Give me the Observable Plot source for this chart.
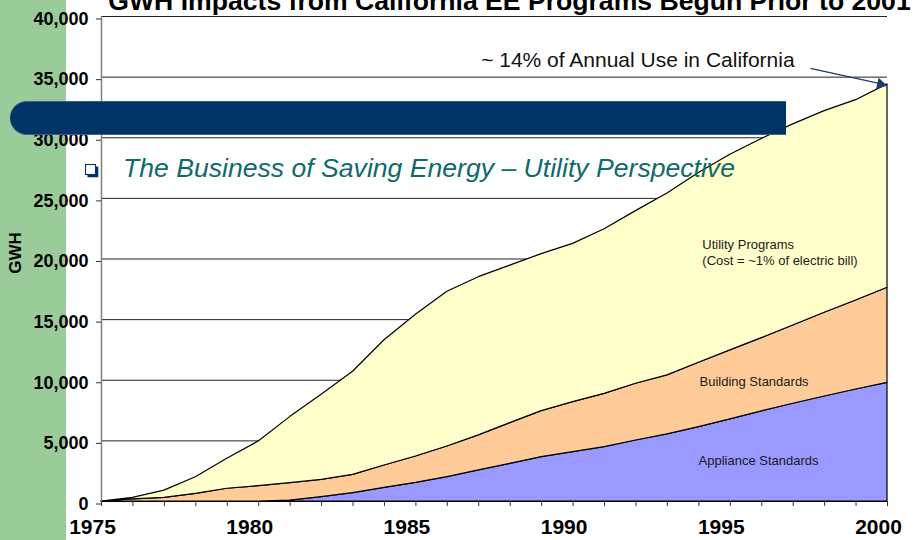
<!DOCTYPE html>
<html><head><meta charset="utf-8">
<script src="https://cdn.jsdelivr.net/npm/d3@7"></script>
<script src="https://cdn.jsdelivr.net/npm/@observablehq/plot@0.6"></script>
<style>
html,body{margin:0;padding:0;background:#fff;}
#wrap{position:relative;width:915px;height:540px;overflow:hidden;font-family:"Liberation Sans",Arial,sans-serif;}
#band{position:absolute;left:0;top:0;width:66px;height:540px;background:#99cc99;}
#chart{position:absolute;left:0;top:0;}
#bar{position:absolute;left:10px;top:101px;width:776px;height:34px;background:#003366;border-radius:17px 0 0 17px;box-sizing:border-box;border-top:1px solid #3a5f90;border-bottom:1px solid #3a5f90;}
#overlay{position:absolute;left:0;top:0;pointer-events:none;}
</style></head><body>
<div id="wrap"><div id="band"></div><div id="chart"></div><div id="bar"></div><svg id="overlay" width="915" height="540"></svg></div>
<script>
// ---- data ----
const years = [1975,1976,1977,1978,1979,1980,1981,1982,1983,1984,1985,1986,1987,1988,1989,1990,1991,1992,1993,1994,1995,1996,1997,1998,1999,2000];
const majorYears = [1975,1980,1985,1990,1995,2000];
const yTicks = [0,5000,10000,15000,20000,25000,30000,35000,40000];
const series = ["Appliance Standards","Building Standards","Utility Programs"];
const appliance = [0,0,0,0,0,0,80,360,690,1130,1540,2010,2560,3110,3660,4070,4480,5030,5530,6130,6770,7430,8060,8660,9240,9790];
const building  = [0,170,300,630,1050,1270,1430,1420,1510,1840,2170,2530,2890,3350,3790,4130,4400,4680,4870,5310,5690,6040,6460,6910,7340,7840];
const utility   = [0,130,600,1370,2470,3680,5450,7020,8500,10330,11690,12760,13050,12990,12950,13050,13570,14240,15000,15660,16140,16430,16580,16630,16520,16770];
const colors = ["#9999ff","#ffcc99","#ffffcc"];
// annotations (data coordinates)
const areaLabels = [
  {x:1994.11, y:21140, text:"Utility Programs"},
  {x:1994.11, y:19820, text:"(Cost = ~1% of electric bill)"},
  {x:1994.02, y:9860,  text:"Building Standards"},
  {x:1993.99, y:3320,  text:"Appliance Standards"}
];
const callout = [{x:1992.06, y:36420, text:"~ 14% of Annual Use in California"}];
const arrowData = [{x1:1997.55, y1:35720, x2:1999.8, y2:34450}];
const arrowHead = [{x:1999.78, y:34420}];
const titleText = "GWH Impacts from California EE Programs Begun Prior to 2001";
const subtitleText = "The Business of Saving Energy \u2013 Utility Perspective";
const yLabel = "GWH";

// ---- table ----
const valuesBySeries = [appliance, building, utility];
const table = [];
years.forEach((yr,i)=>{
  series.forEach((s,j)=>table.push({year:yr, series:s, value:valuesBySeries[j][i]}));
});

const chart = Plot.plot({
  width:915, height:540,
  marginLeft:101, marginRight:28, marginTop:16, marginBottom:39,
  style:{background:"transparent", fontFamily:"'Liberation Sans', Arial, sans-serif", color:"#000", overflow:"visible"},
  x:{domain:[1975,2000], label:null},
  y:{domain:[0,40000], label:null},
  color:{domain:series, range:colors},
  marks:[
    Plot.ruleY(yTicks,{stroke:"#222", strokeWidth:1}),
    Plot.areaY(table,{x:"year", y:"value", z:"series", fill:"series", order:series, stroke:"#000", strokeWidth:1.2, strokeLinejoin:"round"}),
    Plot.ruleX([1975],{stroke:"#808080", strokeWidth:1.5}),
    Plot.ruleY([0],{stroke:"#000", strokeWidth:1}),
    Plot.axisX({ticks:years, tickSize:5, tickFormat:()=>"", stroke:"#333", label:null}),
    Plot.axisX({ticks:majorYears, tickSize:0, tickPadding:18, tickFormat:d=>String(d), fontSize:21, fontWeight:"bold", dx:-9, label:null}),
    Plot.axisY({ticks:yTicks, tickSize:5, tickPadding:8, tickFormat:d3.format(","), fontSize:18, fontWeight:"bold", dy:2.5, stroke:"#333", label:null}),
    Plot.text(areaLabels,{x:"x", y:"y", text:"text", textAnchor:"start", fontSize:13, fill:"#1a1a1a"}),
    Plot.text(callout,{x:"x", y:"y", text:"text", fontSize:21, fill:"#111"}),
    Plot.link(arrowData,{x1:"x1", y1:"y1", x2:"x2", y2:"y2", stroke:"#1f3a6e", strokeWidth:1.3}),
    Plot.dot(arrowHead,{x:"x", y:"y", symbol:"triangle2", r:5.5, fill:"#1f3a6e", rotate:102.8})
  ]
});
document.getElementById("chart").appendChild(chart);

// ---- overlay text / decorations ----
const ov = d3.select("#overlay");
ov.append("text").attr("x",509.5).attr("y",10).attr("text-anchor","middle")
  .attr("font-family","'Liberation Sans', Arial, sans-serif").attr("font-weight","bold").attr("font-size",26.6)
  .attr("fill","#000").text(titleText);
ov.append("text").attr("transform","translate(15,253) rotate(-90)").attr("text-anchor","middle").attr("dy","0.36em")
  .attr("font-family","'Liberation Sans', Arial, sans-serif").attr("font-weight","bold").attr("font-size",17)
  .attr("fill","#000").text(yLabel);
// bullet
ov.append("path").attr("d","M87.5,176 H97 V166.5").attr("fill","none").attr("stroke","#003366").attr("stroke-width",2.6);
ov.append("rect").attr("x",85.5).attr("y",164.5).attr("width",10).attr("height",10).attr("fill","#fff").attr("stroke","#003366").attr("stroke-width",1.1);
ov.append("text").attr("x",123).attr("y",177)
  .attr("font-family","'Liberation Sans', Arial, sans-serif").attr("font-style","italic").attr("font-size",26.6)
  .attr("fill","#0e6b6b").text(subtitleText);
</script>
</body></html>
